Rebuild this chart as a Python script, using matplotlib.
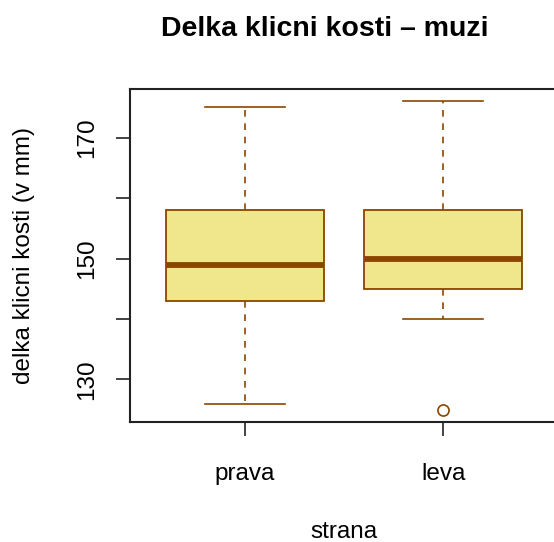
import matplotlib
matplotlib.use('Agg')
import matplotlib.pyplot as plt

# box statistics (delka klicni kosti, muzi)
sides = ['prava', 'leva']
whis_lo = [126, 140]
q1 = [143, 145]
med = [149, 150]
q3 = [158, 158]
whis_hi = [175, 176]
fliers = [[], [125]]

yticks = [130, 140, 150, 160, 170]
ytick_labels = ['130', '', '150', '', '170']

plt.rcParams['font.family'] = ['Liberation Sans', 'DejaVu Sans']

brown = '#8B4500'
khaki = '#F0E68C'

stats = []
for i in range(len(sides)):
    stats.append({'label': sides[i], 'whislo': whis_lo[i], 'q1': q1[i], 'med': med[i],
                  'q3': q3[i], 'whishi': whis_hi[i], 'fliers': fliers[i]})

fig = plt.figure(figsize=(5.54, 5.42), dpi=100)
# plot region runs off the right edge, like the reference
ax = fig.add_axes([130 / 554, 1 - 422 / 542, 428 / 554, 333 / 542])

ax.bxp(stats, positions=[1, 2], widths=0.8, patch_artist=True,
       boxprops=dict(facecolor=khaki, edgecolor=brown, linewidth=1.3),
       medianprops=dict(color=brown, linewidth=4.2, solid_capstyle='butt'),
       whiskerprops=dict(color=brown, linewidth=1.2, linestyle=(0, (4, 4))),
       capprops=dict(color=brown, linewidth=1.2),
       capwidths=0.4,
       flierprops=dict(marker='o', markerfacecolor='none', markeredgecolor=brown,
                       markersize=8, markeredgewidth=1.2))

ax.set_xlim(0.42, 2.58)
ax.set_ylim(122.96, 178.04)
ax.set_yticks(yticks)
ax.set_yticklabels(ytick_labels, rotation=90, va='center', fontsize=17.5)
ax.set_xticks([1, 2])
ax.set_xticklabels(sides, fontsize=17.5)
ax.tick_params(axis='both', length=10.3, width=1.2, color='#222222')
ax.tick_params(axis='y', pad=12.5)
ax.tick_params(axis='x', pad=19)
for s in ['left', 'top', 'bottom']:
    ax.spines[s].set_linewidth(1.5)
    ax.spines[s].set_color('#222222')
ax.spines['right'].set_visible(False)

ax.set_xlabel('strana', fontsize=17.5, labelpad=26)
ax.set_ylabel('delka klicni kosti (v mm)', fontsize=17.5, labelpad=29.5)

fig.text(325 / 554, 1 - 36 / 542, 'Delka klicni kosti \u2013 muzi', ha='center',
         va='baseline', fontsize=20.5, fontweight='bold')

fig.savefig('out.png', dpi=100)
